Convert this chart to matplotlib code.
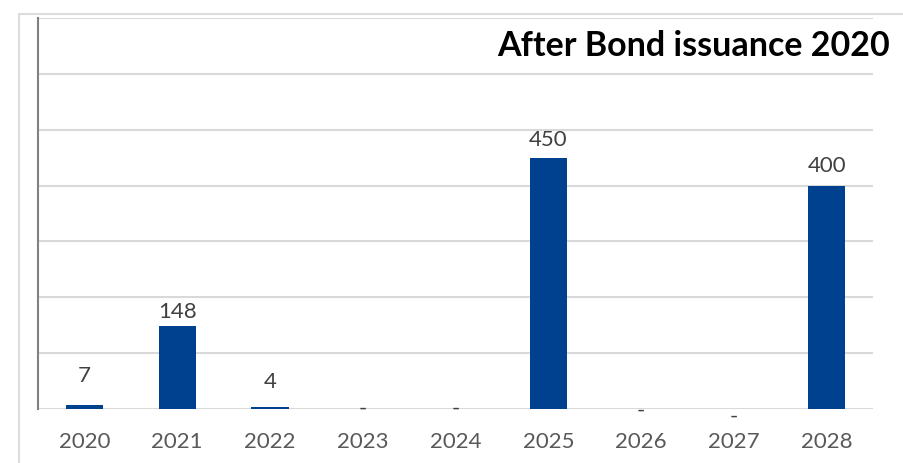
import matplotlib.pyplot as plt
from matplotlib.patches import Rectangle

# --- data ---
years = ["2020", "2021", "2022", "2023", "2024", "2025", "2026", "2027", "2028"]
amounts = [7, 148, 4, 0, 0, 450, 0, 0, 400]
TITLE = "After Bond issuance 2020"

# label baseline offsets above bar top (pixels); Excel labels were nudged by hand
label_dy = [23, 8, 19, -6, -6, 12, -8, -14, 14]

W, H, DPI = 904, 463, 100
BAR_COLOR = "#00418f"
GRID = "#d9d9d9"
LABEL = "#404040"
TICK = "#595959"
FS = 16

plt.rcParams["font.family"] = ["Lato", "DejaVu Sans"]

fig = plt.figure(figsize=(W / DPI, H / DPI), dpi=DPI)
fig.patch.set_facecolor("white")

# chart frame (runs off the right and bottom edge)
fig.add_artist(Rectangle((19 / W, -0.1), 1.2, (H - 14) / H + 0.1,
                         transform=fig.transFigure, fill=False,
                         edgecolor="#dcdcdc", linewidth=1.5))

ax = fig.add_axes([38 / W, (H - 409) / H, (873 - 38) / W, (409 - 18) / H])
x = range(len(years))
bars = ax.bar(x, amounts, width=0.4, color=BAR_COLOR, zorder=3)

ax.set_xlim(-0.5, len(years) - 0.5)
ax.set_ylim(0, 700)
ax.set_yticks(range(0, 701, 100))
ax.yaxis.grid(True, color=GRID, linewidth=1.5, zorder=0)
ax.tick_params(axis="y", left=False, labelleft=False)
ax.tick_params(axis="x", bottom=False, labelsize=FS, labelcolor=TICK, pad=13)
ax.set_xticks(list(x), years)

for side in ("top", "right", "bottom"):
    ax.spines[side].set_visible(False)
ax.spines["left"].set_color("#808080")
ax.spines["left"].set_linewidth(1.5)

for i, (v, dy) in enumerate(zip(amounts, label_dy)):
    txt = f"{v:,}" if v else "-"
    ax.annotate(txt, (i, v), xytext=(0, dy), textcoords="offset pixels",
                ha="center", va="baseline", fontsize=FS, color=LABEL)

fig.text(890 / W, 1 - 46 / H, TITLE, ha="right", va="center",
         fontsize=24.5, fontweight="bold", color="black")

fig.savefig("out.png", dpi=DPI)
